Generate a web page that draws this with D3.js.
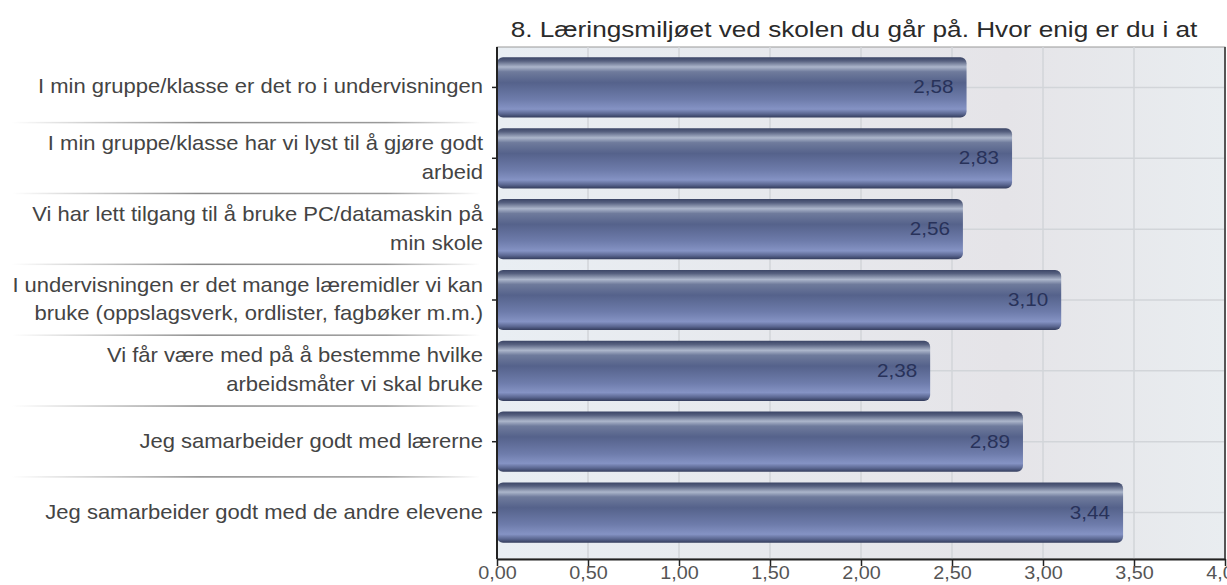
<!DOCTYPE html>
<html>
<head>
<meta charset="utf-8">
<script src="https://cdn.jsdelivr.net/npm/d3@7"></script>
<style>
  body { margin: 0; background: #fff; }
  svg { display: block; font-family: "Liberation Sans", Arial, sans-serif; }
</style>
</head>
<body>
<script>
// chart data
var title = "8. Læringsmiljøet ved skolen du går på. Hvor enig er du i at";
var categories = [
  ["I min gruppe/klasse er det ro i undervisningen"],
  ["I min gruppe/klasse har vi lyst til å gjøre godt", "arbeid"],
  ["Vi har lett tilgang til å bruke PC/datamaskin på", "min skole"],
  ["I undervisningen er det mange læremidler vi kan", "bruke (oppslagsverk, ordlister, fagbøker m.m.)"],
  ["Vi får være med på å bestemme hvilke", "arbeidsmåter vi skal bruke"],
  ["Jeg samarbeider godt med lærerne"],
  ["Jeg samarbeider godt med de andre elevene"]
];
var values = [2.58, 2.83, 2.56, 3.10, 2.38, 2.89, 3.44];
var xTicks = [0, 0.5, 1, 1.5, 2, 2.5, 3, 3.5, 4];

var width = 1227, height = 585;
var plot = { left: 497, right: 1225, top: 47, bottom: 559 };
var stretch = 1.1; // the original text is a bit wide

var svg = d3.select("body").append("svg")
  .attr("width", width)
  .attr("height", height);

var fmt = function(v) { return d3.format(".2f")(v).replace(".", ","); };

var x = d3.scaleLinear().domain([0, 4]).range([plot.left, plot.right]);
var y = d3.scaleBand().domain(d3.range(values.length))
  .range([52, 548]).paddingInner(0.15).paddingOuter(0.075);

// gradients
var defs = svg.append("defs");
var bg = defs.append("linearGradient").attr("id", "bg").attr("x1", 0).attr("x2", 1).attr("y1", 0).attr("y2", 0);
bg.append("stop").attr("offset", "0%").attr("stop-color", "#e9eef3");
bg.append("stop").attr("offset", "70%").attr("stop-color", "#e5e4e8");
bg.append("stop").attr("offset", "100%").attr("stop-color", "#e9edf0");

var bar = defs.append("linearGradient").attr("id", "bar").attr("x1", 0).attr("x2", 0).attr("y1", 0).attr("y2", 1);
[["0%", "#3b4566"], ["6%", "#56607f"], ["16%", "#acb6cb"], ["24%", "#6f7b9c"], ["42%", "#55628b"],
 ["70%", "#6e7cab"], ["86%", "#8593c4"], ["94%", "#5a6690"], ["100%", "#333c5c"]]
  .forEach(function(s) { bar.append("stop").attr("offset", s[0]).attr("stop-color", s[1]); });

var sep = defs.append("linearGradient").attr("id", "sep").attr("x1", 0).attr("x2", 1).attr("y1", 0).attr("y2", 0);
sep.append("stop").attr("offset", "0%").attr("stop-color", "#fff");
sep.append("stop").attr("offset", "40%").attr("stop-color", "#8a8a8a");
sep.append("stop").attr("offset", "80%").attr("stop-color", "#9a9a9a");
sep.append("stop").attr("offset", "100%").attr("stop-color", "#fff");

// plot background
svg.append("rect")
  .attr("x", plot.left).attr("y", plot.top)
  .attr("width", plot.right - plot.left).attr("height", plot.bottom - plot.top)
  .attr("fill", "url(#bg)")
  .attr("stroke", "#9a9a9a");

// grid
svg.append("g").selectAll("line").data(xTicks.slice(1, -1)).join("line")
  .attr("x1", function(d) { return x(d); }).attr("x2", function(d) { return x(d); })
  .attr("y1", plot.top).attr("y2", plot.bottom)
  .attr("stroke", "#d2d5d9").attr("stroke-width", 1.5);
svg.append("g").selectAll("line").data(d3.range(values.length)).join("line")
  .attr("x1", plot.left).attr("x2", plot.right)
  .attr("y1", function(i) { return y(i) + y.bandwidth() / 2; })
  .attr("y2", function(i) { return y(i) + y.bandwidth() / 2; })
  .attr("stroke", "#d2d5d9").attr("stroke-width", 1.5);

// right border
svg.append("line").attr("x1", plot.right).attr("x2", plot.right)
  .attr("y1", plot.top).attr("y2", plot.bottom)
  .attr("stroke", "#555").attr("stroke-width", 2);

// bars
svg.append("g").selectAll("rect").data(values).join("rect")
  .attr("x", x(0))
  .attr("y", function(d, i) { return y(i); })
  .attr("width", function(d) { return x(d) - x(0); })
  .attr("height", y.bandwidth())
  .attr("rx", 6)
  .attr("fill", "url(#bar)");

// value labels
svg.append("g").selectAll("text").data(values).join("text")
  .attr("transform", function(d, i) {
    return "translate(" + (x(d) - 13) + "," + (y(i) + y.bandwidth() / 2 + 6) + ") scale(1.15,1)";
  })
  .attr("text-anchor", "end")
  .attr("font-size", 18)
  .attr("fill", "#28325a")
  .text(fmt);

// x axis
var xAxis = svg.append("g")
  .attr("transform", "translate(0," + plot.bottom + ")")
  .call(d3.axisBottom(x).tickValues(xTicks).tickFormat(fmt).tickSize(7).tickSizeOuter(0));
xAxis.select(".domain").attr("stroke", "#222").attr("stroke-width", 2);
xAxis.selectAll(".tick line").attr("stroke", "#222").attr("stroke-width", 1.5);
xAxis.selectAll(".tick text").attr("font-size", 18).attr("fill", "#555")
  .attr("font-family", "Liberation Sans, Arial, sans-serif")
  .attr("y", 0).attr("dy", 0)
  .attr("transform", "translate(0,20) scale(" + stretch + ",1)");

// y axis
var yAxis = svg.append("g")
  .attr("transform", "translate(" + plot.left + ",0)")
  .call(d3.axisLeft(y).tickSize(5).tickSizeOuter(0).tickFormat(""));
yAxis.select(".domain").attr("stroke", "#222").attr("stroke-width", 2)
  .attr("d", "M0," + plot.top + "V" + plot.bottom);
yAxis.selectAll(".tick line").attr("stroke", "#222").attr("stroke-width", 1.5);

// category labels
var lineH = 29;
svg.append("g").selectAll("text").data(categories).join("text")
  .attr("text-anchor", "end")
  .attr("font-size", 20)
  .attr("fill", "#444")
  .attr("transform", function(d, i) {
    var cy = y(i) + y.bandwidth() / 2 - (d.length - 1) * lineH / 2 + 6;
    return "translate(483," + cy + ") scale(" + stretch + ",1)";
  })
  .selectAll("tspan").data(function(d) { return d; }).join("tspan")
  .attr("x", 0)
  .attr("dy", function(d, j) { return j === 0 ? 0 : lineH; })
  .text(function(d) { return d; });

// separators between labels
svg.append("g").selectAll("rect").data(d3.range(1, values.length)).join("rect")
  .attr("x", 12).attr("width", 468)
  .attr("y", function(i) { return y(i) - y.step() * y.paddingInner() / 2 - 1; })
  .attr("height", 1.5)
  .attr("fill", "url(#sep)");

// title
svg.append("text")
  .attr("transform", "translate(854,37) scale(1.19,1)")
  .attr("text-anchor", "middle")
  .attr("font-size", 22)
  .attr("fill", "#2a2a2a")
  .text(title);
</script>
</body>
</html>
